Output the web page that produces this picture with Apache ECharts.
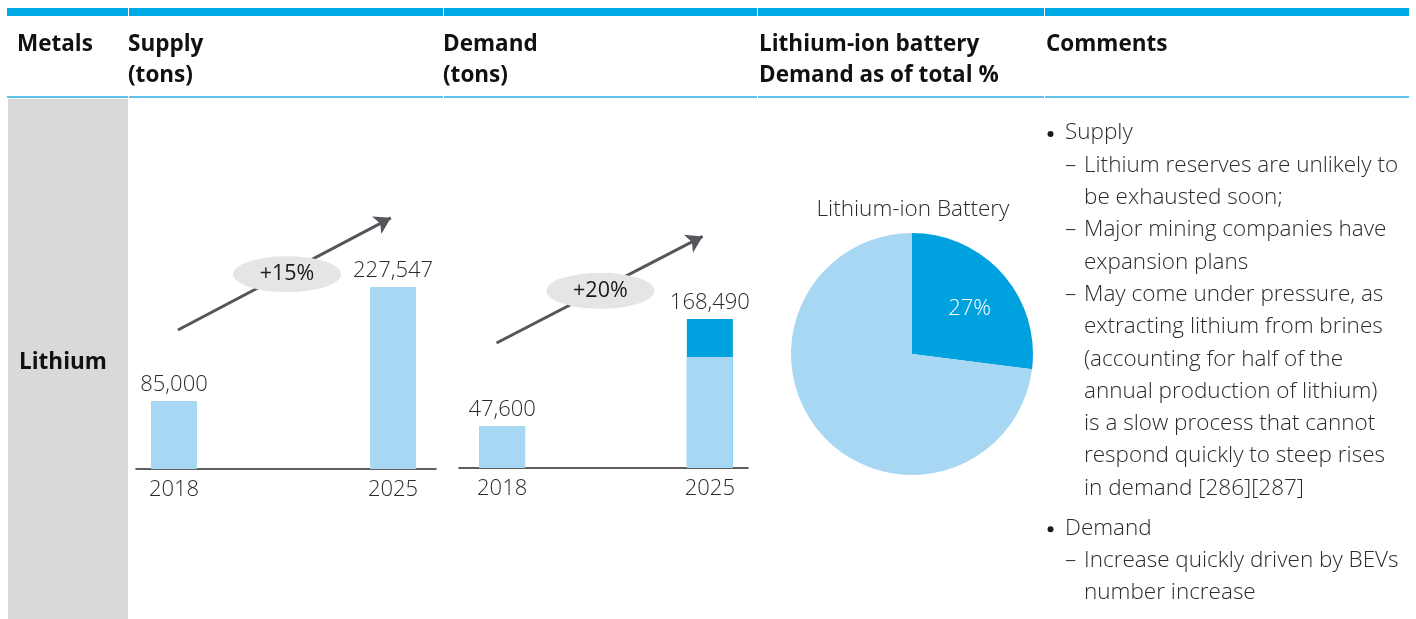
<!DOCTYPE html>
<html>
<head>
<meta charset="utf-8">
<script src="https://cdn.jsdelivr.net/npm/echarts@6/dist/echarts.min.js"></script>
<style>
  html, body { margin: 0; padding: 0; background: #ffffff; }
  #chart { width: 1416px; height: 619px; }
</style>
</head>
<body>
<div id="chart"></div>
<script>
// ---- table content ----
const headers = [
  ['Metals'],
  ['Supply', '(tons)'],
  ['Demand', '(tons)'],
  ['Lithium-ion battery', 'Demand as of total %'],
  ['Comments']
];
const metal = 'Lithium';

// ---- chart values ----
const years = ['2018', '2025'];
const supplyTons = [85000, 227547];
const demandTotalTons = [47600, 168490];
const demandNonBatteryTons = [47600, 125490];
const growthLabels = ['+15%', '+20%'];
const pieTitle = 'Lithium-ion Battery';
const pieNames = ['Lithium-ion Battery', 'Other'];
const pieShares = [27, 73];

// ---- comments column: [level, text]; 0 = bullet, 1 = dash item, 2 = wrapped line ----
const comments = [
  [0, 'Supply'],
  [1, 'Lithium reserves are unlikely to'],
  [2, 'be exhausted soon;'],
  [1, 'Major mining companies have'],
  [2, 'expansion plans'],
  [1, 'May come under pressure, as'],
  [2, 'extracting lithium from brines'],
  [2, '(accounting for half of the'],
  [2, 'annual production of lithium)'],
  [2, 'is a slow process that cannot'],
  [2, 'respond quickly to steep rises'],
  [2, 'in demand [286][287]'],
  [0, 'Demand'],
  [1, 'Increase quickly driven by BEVs'],
  [2, 'number increase']
];

// ---- styling ----
const FONT = '"Open Sans", "Noto Sans", sans-serif';
const BLUE = '#00A8E4';
const LIGHT_BLUE = '#A7D7F2';
const DARK_BLUE = '#00A1DF';
const TEXT = '#2b2b2b';
const ARROW = '#53565A';
const PILL = '#E5E5E5';

const fmt = v => Number(v).toLocaleString('en-US');

// ---- static table frame ----
const graphic = [];
const colEdges = [7, 128, 443, 757, 1044, 1409];
for (let i = 0; i < colEdges.length - 1; i++) {
  const x0 = colEdges[i] + (i === 0 ? 0 : 1);
  const x1 = colEdges[i + 1];
  graphic.push({ type: 'rect', silent: true,
    shape: { x: x0, y: 8, width: x1 - x0, height: 8 },
    style: { fill: BLUE } });
  graphic.push({ type: 'rect', silent: true,
    shape: { x: x0, y: 96, width: x1 - x0, height: 2 },
    style: { fill: '#5EC3EA' } });
}
graphic.push({ type: 'rect', silent: true, z: -1,
  shape: { x: 8, y: 99, width: 120, height: 520 },
  style: { fill: '#D9D9D9' } });

const headerX = [17, 128, 443, 759, 1046];
headers.forEach((lines, i) => {
  lines.forEach((t, j) => {
    graphic.push({ type: 'text', silent: true,
      x: headerX[i], y: 45 + j * 31,
      style: { text: t, font: `bold 22.5px ${FONT}`, fill: '#111', verticalAlign: 'middle' } });
  });
});
graphic.push({ type: 'text', silent: true, x: 19, y: 363,
  style: { text: metal, font: `bold 22.5px ${FONT}`, fill: '#111', verticalAlign: 'middle' } });

// pie heading
graphic.push({ type: 'text', silent: true, x: 913, y: 210,
  style: { text: pieTitle, font: `300 22.5px ${FONT}`, fill: TEXT, align: 'center', verticalAlign: 'middle' } });

// comments column
let cy = 133;
comments.forEach(([lvl, t], k) => {
  if (k > 0) cy += (lvl === 0 ? 40 : 32.3);
  if (lvl === 0) {
    graphic.push({ type: 'circle', silent: true,
      shape: { cx: 1050.5, cy: cy + 1, r: 3 },
      style: { fill: '#1a1a1a' } });
    graphic.push({ type: 'text', silent: true, x: 1065, y: cy,
      style: { text: t, font: `300 22.5px ${FONT}`, fill: TEXT, verticalAlign: 'middle' } });
  } else {
    if (lvl === 1) {
      graphic.push({ type: 'text', silent: true, x: 1065, y: cy,
        style: { text: '–', font: `300 22.5px ${FONT}`, fill: TEXT, verticalAlign: 'middle' } });
    }
    graphic.push({ type: 'text', silent: true, x: 1084, y: cy,
      style: { text: t, font: `300 22.5px ${FONT}`, fill: TEXT, verticalAlign: 'middle' } });
  }
});

// ---- axes ----
function xAxisFor(gridIndex, min, max) {
  return {
    type: 'value', gridIndex, min, max,
    axisLine: { show: true, onZero: true, lineStyle: { color: '#2a2a2a', width: 1.6 } },
    axisTick: { show: false },
    splitLine: { show: false },
    axisLabel: {
      customValues: [0, 1],
      formatter: v => years[Math.round(v)],
      margin: 10,
      fontFamily: FONT, fontWeight: 300, fontSize: 22, color: TEXT
    }
  };
}
function yAxisFor(gridIndex, max) {
  return { type: 'value', gridIndex, min: 0, max, show: false, splitLine: { show: false } };
}

const valueLabel = {
  show: true, position: 'top', distance: 5,
  fontFamily: FONT, fontWeight: 300, fontSize: 22, color: TEXT
};

function growthMarks(from, to, mid, text) {
  return {
    markLine: {
      silent: true, z: 5,
      symbol: ['none', 'arrow'], symbolSize: [15, 16],
      label: { show: false },
      lineStyle: { color: ARROW, width: 3, type: 'solid' },
      emphasis: { disabled: true },
      data: [[{ coord: from }, { coord: to }]]
    },
    markPoint: {
      silent: true, z: 6,
      symbol: 'circle', symbolSize: [108, 36],
      itemStyle: { color: PILL },
      label: { show: true, position: 'inside', formatter: text,
        fontFamily: FONT, fontSize: 21.5, color: '#1a1a1a' },
      data: [{ coord: mid }]
    }
  };
}

const option = {
  animation: false,
  backgroundColor: '#ffffff',
  graphic: graphic,
  grid: [
    { left: 136, width: 300, top: 149, height: 320 },
    { left: 459, width: 289, top: 148, height: 320 }
  ],
  xAxis: [xAxisFor(0, -0.1735, 1.196), xAxisFor(1, -0.2077, 1.1836)],
  yAxis: [yAxisFor(0, 400000), yAxisFor(1, 362000)],
  series: [
    Object.assign({
      name: 'Supply', type: 'bar', xAxisIndex: 0, yAxisIndex: 0,
      barWidth: 46,
      itemStyle: { color: LIGHT_BLUE },
      label: Object.assign({}, valueLabel, { formatter: p => fmt(p.value[1]) }),
      emphasis: { disabled: true },
      data: supplyTons.map((v, i) => [i, v])
    }, growthMarks([0.018, 173750], [0.99, 314000], [0.516, 243500], growthLabels[0])),
    // total demand; the part above the non-battery bar is the Li-ion battery share
    Object.assign({
      name: 'Demand (total)', type: 'bar', xAxisIndex: 1, yAxisIndex: 1,
      barWidth: 46, barGap: '-100%',
      emphasis: { disabled: true },
      label: Object.assign({}, valueLabel, { formatter: p => fmt(p.value[1]) }),
      data: demandTotalTons.map((v, i) => ({
        value: [i, v],
        itemStyle: { color: v > demandNonBatteryTons[i] ? DARK_BLUE : LIGHT_BLUE }
      }))
    }, growthMarks([-0.027, 141400], [0.965, 262000], [0.473, 200500], growthLabels[1])),
    {
      name: 'Demand (other uses)', type: 'bar', xAxisIndex: 1, yAxisIndex: 1,
      barWidth: 46, barGap: '-100%',
      itemStyle: { color: LIGHT_BLUE },
      emphasis: { disabled: true },
      data: demandNonBatteryTons.map((v, i) => [i, v])
    },
    {
      name: 'Battery share', type: 'pie',
      center: [912, 354], radius: 121,
      startAngle: 90, clockwise: true,
      silent: true,
      labelLine: { show: false },
      labelLayout: { dx: 10, dy: -3 },
      emphasis: { disabled: true },
      data: pieShares.map((v, i) => ({
        name: pieNames[i], value: v,
        itemStyle: { color: i === 0 ? DARK_BLUE : LIGHT_BLUE, borderWidth: 0 },
        label: {
          show: i === 0, position: 'inside', formatter: '{c}%',
          fontFamily: FONT, fontWeight: 300, fontSize: 22, color: '#ffffff'
        }
      }))
    }
  ]
};

const chart = echarts.init(document.getElementById('chart'), null, { renderer: 'canvas' });
chart.setOption(option);
</script>
</body>
</html>
